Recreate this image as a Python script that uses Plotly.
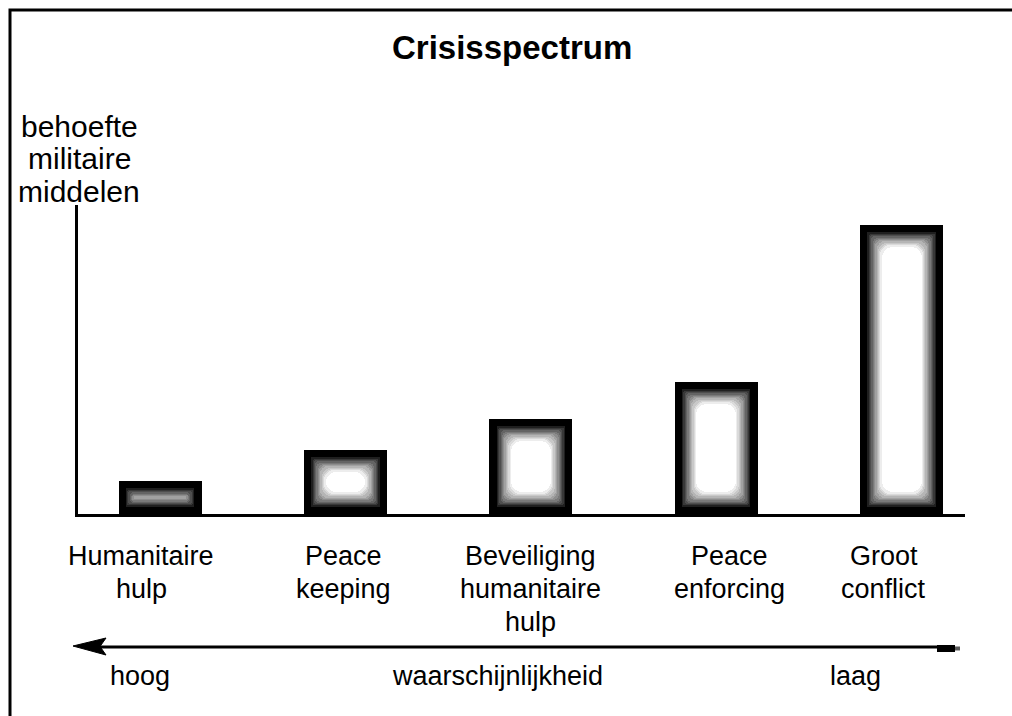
import plotly.graph_objects as go

# ---- data ----
categories = ["Humanitaire<br>hulp", "Peace<br>keeping", "Beveiliging<br>humanitaire<br>hulp",
              "Peace<br>enforcing", "Groot<br>conflict"]
values = [33, 64, 95, 132, 289]          # behoefte militaire middelen (relative)
y_max = 309
title_text = "Crisisspectrum"
y_label_lines = ["behoefte", "militaire", "middelen"]
prob_labels = ["hoog", "waarschijnlijkheid", "laag"]

# ---- layout geometry (screen pixels) ----
W, H = 1012, 716
AX_L, AX_R, AX_T, AX_B = 78, 965, 205, 514      # screen positions of the axes box
L, R, T, B = AX_L, W - AX_R, AX_T, H - AX_B
PW, PH = W - L - R, H - T - B
x0_px, step_px = 160, 185.4               # screen center of first category, spacing
x_range = [(AX_L - x0_px) / step_px, (AX_R - x0_px) / step_px]
bar_w = 83 / step_px
FONT = "Liberation Sans, Arial, sans-serif"
label_xshift = [-19, -2, 0, 13, -18]


def px(x):
    return (x - AX_L) / PW


def py(y):
    return (AX_B - y) / PH


fig = go.Figure()

# outer black bar
fig.add_trace(go.Bar(x=categories, y=values, base=[0] * len(values), width=bar_w,
                     marker=dict(color="black", line=dict(width=0)), hoverinfo="skip"))

# inner glow layers (black -> white)
N = 12
for k in range(1, N + 1):
    inset = 6 + 1.3 * k
    g = int(round(255 * (k / N) ** 0.85))
    col = f"rgb({g},{g},{g})"
    w = bar_w - 2 * inset / step_px
    hgt = [(v - 2 * inset) if (v - 2 * inset) > 1 else None for v in values]
    cr = 1 + 0.9 * k
    fig.add_trace(go.Bar(x=categories, y=hgt, base=[inset] * len(values), width=w,
                         marker=dict(color=col, line=dict(width=0), cornerradius=cr),
                         hoverinfo="skip"))

annotations = []
annotations.append(dict(x=px(512), y=py(47), xref="paper", yref="paper", text=f"<b>{title_text}</b>",
                        showarrow=False, font=dict(size=33, color="black", family=FONT),
                        xanchor="center", yanchor="middle"))
for i, line in enumerate(y_label_lines):
    annotations.append(dict(x=px(79), y=py(126 + 32.5 * i), xref="paper", yref="paper", text=line,
                            showarrow=False, font=dict(size=30, color="black", family=FONT),
                            xanchor="center", yanchor="middle"))
for c, xs in zip(categories, label_xshift):
    for j, line in enumerate(c.split("<br>")):
        annotations.append(dict(x=c, y=py(556 + 33 * j), xref="x", yref="paper", text=line,
                                xshift=xs, showarrow=False,
                                font=dict(size=27, color="black", family=FONT),
                                xanchor="center", yanchor="middle"))
for xpos, t in zip([140, 497, 855], prob_labels):
    annotations.append(dict(x=px(xpos), y=py(676), xref="paper", yref="paper", text=t,
                            showarrow=False, font=dict(size=27, color="black", family=FONT),
                            xanchor="center", yanchor="middle"))

shapes = [
    dict(type="rect", xref="paper", yref="paper", x0=px(10), x1=px(1030), y0=py(10), y1=py(740),
         line=dict(color="black", width=3), fillcolor="rgba(0,0,0,0)", layer="below"),
    dict(type="line", xref="paper", yref="paper", x0=px(98), x1=px(940), y0=py(647), y1=py(647),
         line=dict(color="black", width=3)),
    dict(type="path", xref="paper", yref="paper",
         path=f"M {px(73)},{py(646)} L {px(106)},{py(638)} L {px(100)},{py(646.5)} L {px(106)},{py(655)} Z",
         fillcolor="black", line=dict(color="black", width=1)),
    dict(type="rect", xref="paper", yref="paper", x0=px(937), x1=px(955), y0=py(645), y1=py(652),
         fillcolor="black", line=dict(width=0)),
    dict(type="rect", xref="paper", yref="paper", x0=px(955), x1=px(960), y0=py(646.5), y1=py(650.5),
         fillcolor="rgb(90,90,90)", line=dict(width=0)),
]

fig.update_layout(
    width=W, height=H,
    margin=dict(l=L, r=R, t=T, b=B),
    paper_bgcolor="white", plot_bgcolor="white",
    barmode="overlay", bargap=0, showlegend=False,
    xaxis=dict(type="category", range=x_range, showline=True, linewidth=3, linecolor="black",
               showticklabels=False, ticks="", showgrid=False, zeroline=False, fixedrange=True),
    yaxis=dict(range=[0, y_max], showline=True, linewidth=3, linecolor="black",
               showticklabels=False, ticks="", showgrid=False, zeroline=False, fixedrange=True),
    annotations=annotations, shapes=shapes,
    font=dict(family=FONT, color="black"),
)

fig.write_html("out.html", config={"displayModeBar": False},
               post_script="document.body.style.margin='0';document.body.style.overflow='hidden';")
